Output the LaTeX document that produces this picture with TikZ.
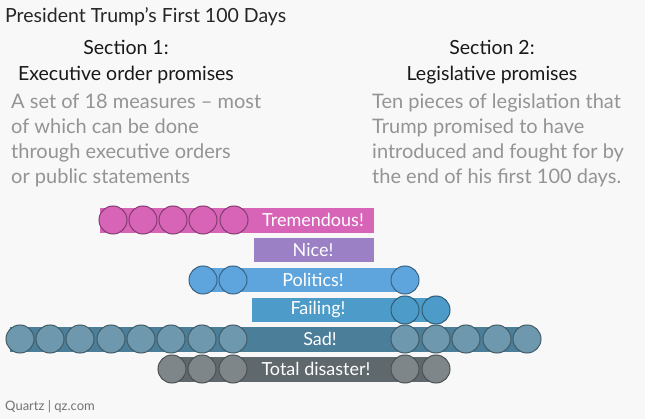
\documentclass[tikz,border=0pt]{standalone}
\usepackage{fontspec}
\setmainfont{Lato}
\begin{document}
\begin{tikzpicture}[x=1pt,y=-1pt,
  bar/.style={minimum height=25pt,inner sep=0pt,text=white,font=\fontsize{18}{18}\selectfont},
  face/.style={circle,minimum size=28pt,inner sep=0pt,draw=#1!60!black,line width=1pt,fill=#1},
  gray/.style={text=black!42,font=\fontsize{20}{25}\selectfont,align=left,anchor=north west,inner sep=0pt}]
\definecolor{cT}{HTML}{D864B8}\definecolor{cN}{HTML}{9B80C6}\definecolor{cP}{HTML}{5EA5DD}
\definecolor{cF}{HTML}{4C9BC8}\definecolor{cS}{HTML}{4A7E99}\definecolor{cD}{HTML}{5F686C}
\definecolor{bg}{HTML}{F8F8F8}
\fill[bg] (0,0) rectangle (645,419);
\useasboundingbox (0,0) rectangle (645,419);
\node[anchor=west,inner sep=0pt,font=\fontsize{19.5}{19}\selectfont,text=black!85] (title) at (5,17) {President Trump’s First 100 Days};
\node[align=center,font=\fontsize{19.5}{26}\selectfont,text=black!90] (s1) at (126,62) {Section 1:\\Executive order promises};
\node[align=center,font=\fontsize{19.5}{26}\selectfont,text=black!90] (s2) at (492,62) {Section 2:\\Legislative promises};
\node[gray] (g1) at (11,94) {A set of 18 measures – most\\of which can be done\\through executive orders\\or public statements};
\node[gray] (g2) at (372,94) {Ten pieces of legislation that\\Trump promised to have\\introduced and fought for by\\the end of his first 100 days.};
% bars
\fill[cT] (100,208) rectangle (374,233);
\node[bar] (bT) at (313,220) {Tremendous!};
\fill[cN] (254,238) rectangle (374,262);
\node[bar] (bN) at (313,250) {Nice!};
\fill[cP] (200,268) rectangle (405,292);
\node[bar] (bP) at (313,280) {Politics!};
\fill[cF] (252,298) rectangle (436,322);
\node[bar] (bF) at (318,310) {Failing!};
\fill[cS] (10,327) rectangle (527,352);
\node[bar] (bS) at (320,339) {Sad!};
\fill[cD] (172,357) rectangle (436,382);
\node[bar] (bD) at (316,369) {Total disaster!};
\foreach \x [count=\i] in {113,143,173,203,234} \node[face=cT] (t\i) at (\x,220) {};
\foreach \x [count=\i] in {203,233,405} \node[face=cP] (p\i) at (\x,280) {};
\foreach \x [count=\i] in {405,436} \node[face=cF] (f\i) at (\x,310) {};
\foreach \x [count=\i] in {20,50,80,111,141,171,202,233,405,436,466,497,527} \node[face=cS!80!white] (s\i) at (\x,339) {};
\foreach \x [count=\i] in {172,202,233,405,436} \node[face=cD!80!white] (d\i) at (\x,369) {};
\node[anchor=west,inner sep=0pt,font=\fontsize{13}{13}\selectfont,text=black!55] (q) at (5,407) {Quartz | qz.com};
\end{tikzpicture}
\end{document}
